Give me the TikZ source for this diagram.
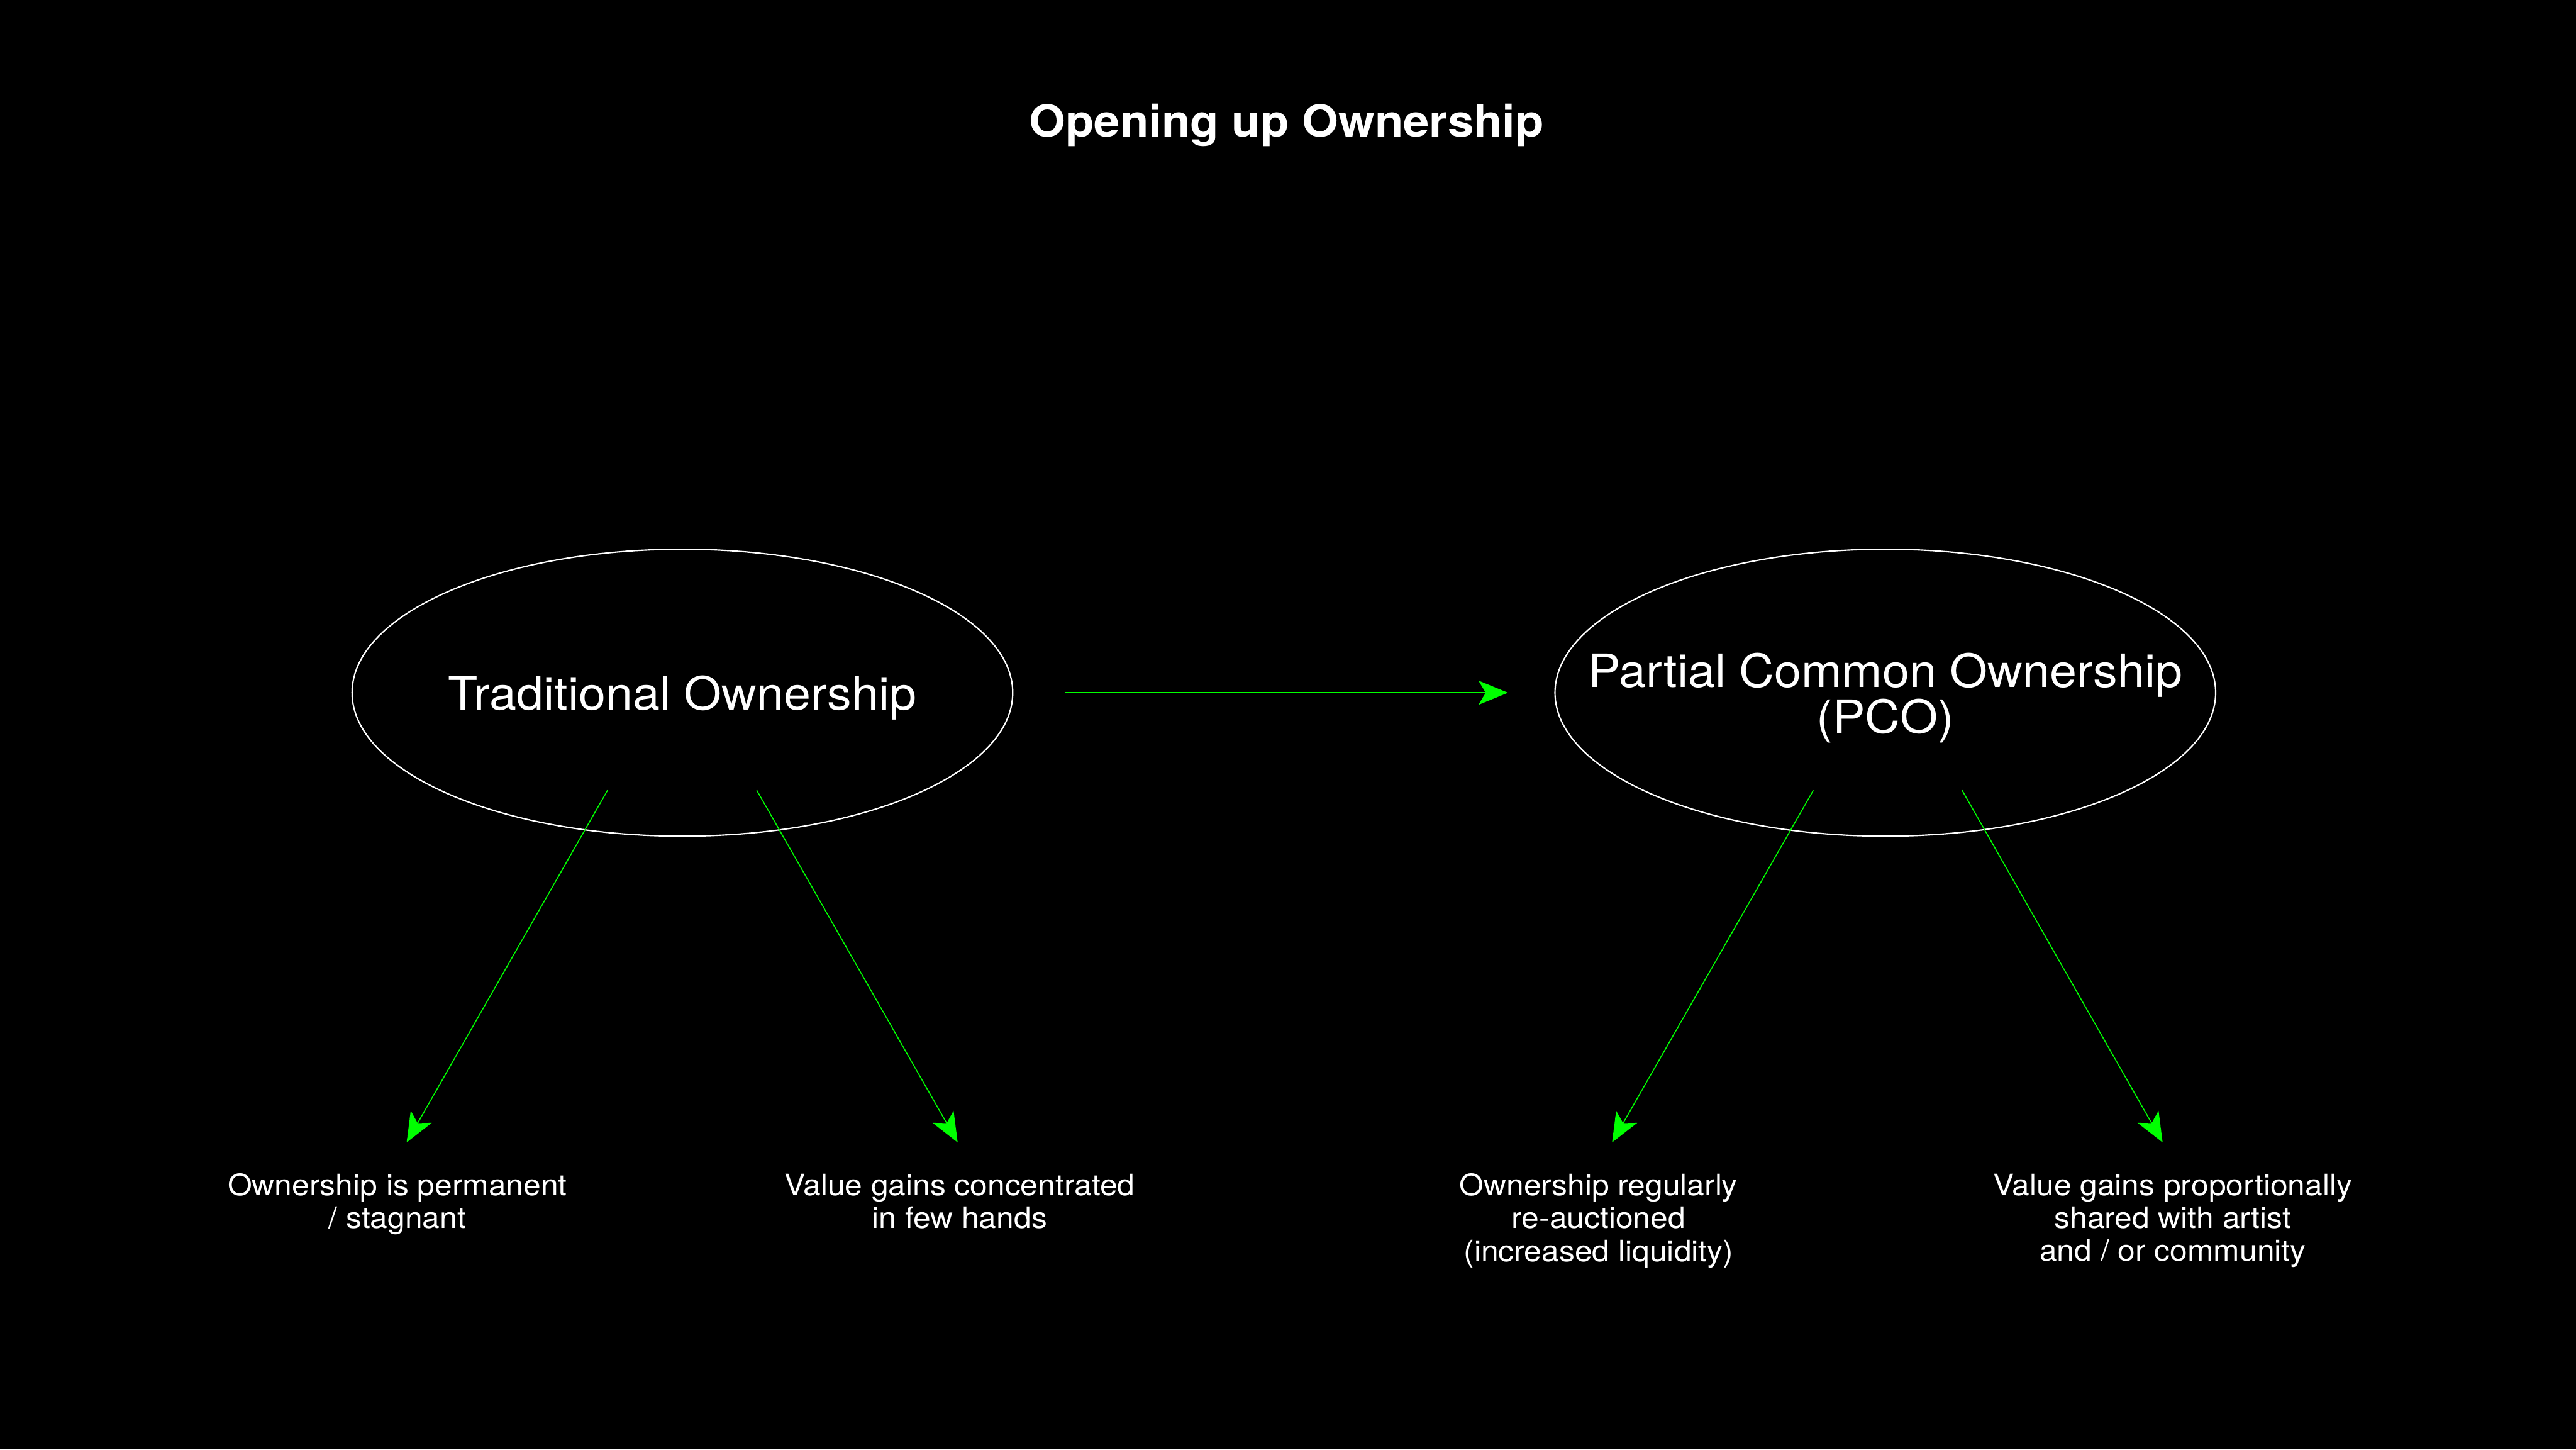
\documentclass[tikz,border=0pt]{standalone}
\usepackage{fontspec}
\setmainfont{TeX Gyre Heros}[FakeStretch=1.06]
\usepackage{xcolor}
\usetikzlibrary{arrows.meta,positioning,calc,shapes.geometric}
\definecolor{neon}{HTML}{00FF00}

\begin{document}
\begin{tikzpicture}[
    oval/.style={ellipse, draw=white, line width=0.8pt, minimum width=13.68cm, minimum height=5.94cm, inner sep=0pt},
    big/.style={text=white, font=\fontsize{27}{27.3}\selectfont, align=center, yshift=-0.11cm},
    note/.style={text=white, font=\fontsize{17.4}{19.3}\selectfont, align=center, anchor=north, inner sep=0pt},
    arrow/.style={-{Stealth[length=0.61cm, width=0.5cm, inset=0.15cm]}, neon, line width=0.6pt}
]
    \fill[black] (0,0) rectangle (53.34,30.01);

    \node[text=white, font=\bfseries\fontsize{26}{30}\selectfont, anchor=base] (title) at (26.64,27.18) {Opening up Ownership};

    \node[oval] (trad) at (14.13,15.67) {};
    \node[oval, right=11.20cm of trad] (pco) {};
    \node[big] (trad-text) at (trad) {Traditional Ownership};
    \node[big] (pco-text) at (pco) {Partial Common Ownership\\(PCO)};

    \node[note] (fixed) at (8.23,5.72) {Ownership is permanent\\/ stagnant};
    \node[note] (few) at (19.87,5.72) {Value gains concentrated\\in few hands};
    \node[note] (auction) at (33.10,5.72) {Ownership regularly\\re-auctioned\\(increased liquidity)};
    \node[note] (shared) at (44.99,5.72) {Value gains proportionally\\shared with artist\\and / or community};

    % arrow ends
    \coordinate (trad-l) at ($(trad)+(-1.55,-2.02)$);
    \coordinate (trad-r) at ($(trad)+(1.54,-2.02)$);
    \coordinate (pco-l) at ($(pco)+(-1.49,-2.02)$);
    \coordinate (pco-r) at ($(pco)+(1.59,-2.02)$);
    \coordinate (fixed-tip) at ($(fixed.north)+(0.19,0.64)$);
    \coordinate (few-tip) at ($(few.north)+(-0.04,0.64)$);
    \coordinate (auction-tip) at ($(auction.north)+(0.28,0.64)$);
    \coordinate (shared-tip) at ($(shared.north)+(-0.21,0.64)$);

    \draw[arrow, shorten <=1.06cm, shorten >=0.96cm] (trad) -- (pco);
    \draw[arrow] (trad-l) -- (fixed-tip);
    \draw[arrow] (trad-r) -- (few-tip);
    \draw[arrow] (pco-l) -- (auction-tip);
    \draw[arrow] (pco-r) -- (shared-tip);
\end{tikzpicture}
\end{document}
